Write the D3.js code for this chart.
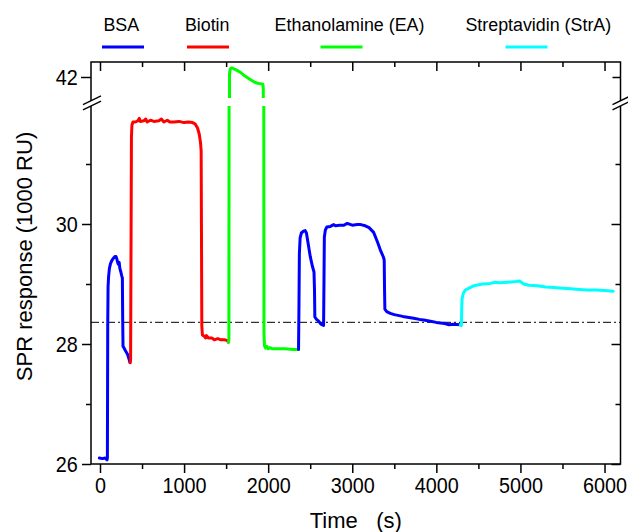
<!DOCTYPE html>
<html>
<head>
<meta charset="utf-8">
<script src="https://cdn.jsdelivr.net/npm/d3@7"></script>
<style>
  html, body { margin: 0; padding: 0; background: #fff; }
  svg { display: block; font-family: "Liberation Sans", Arial, Helvetica, sans-serif; }
</style>
</head>
<body>
<svg id="chart" width="628" height="532"></svg>
<script>
// ---- Sensorgram data: [time (s), SPR response (1000 RU)] ----
const bsaInjection1 = [
  [-8, 26.1], [30, 26.09], [60, 26.1], [84, 26.07], [88, 26.1], [92, 28.3], [96, 28.95],
  [102, 29.12], [112, 29.26], [125, 29.34], [140, 29.39], [160, 29.43], [178, 29.46],
  [190, 29.46], [200, 29.42], [210, 29.36], [218, 29.33], [228, 29.36], [236, 29.26],
  [248, 29.2], [258, 29.14], [266, 29.1], [270, 28.4], [274, 27.96], [284, 27.94],
  [298, 27.9], [315, 27.86], [330, 27.82], [345, 27.75], [357, 27.69]
];
const biotinInjection = [
  [357, 27.69], [364, 27.73], [374, 31.45], [380, 31.65], [392, 31.7], [420, 31.7],
  [450, 31.72], [468, 31.76], [480, 31.71], [520, 31.72], [545, 31.75], [560, 31.7],
  [600, 31.73], [640, 31.71], [700, 31.72], [730, 31.75], [760, 31.7], [800, 31.73],
  [830, 31.7], [880, 31.7], [940, 31.71], [1000, 31.69], [1050, 31.7], [1100, 31.69],
  [1130, 31.67], [1160, 31.6], [1180, 31.5], [1195, 31.36], [1203, 31.22], [1211, 28.3],
  [1218, 28.15], [1240, 28.13], [1255, 28.1], [1265, 28.14], [1290, 28.1], [1330, 28.1],
  [1360, 28.07], [1400, 28.09], [1440, 28.07], [1480, 28.07], [1510, 28.06], [1528, 28.03]
];
const eaInjection = [
  [1528, 28.03], [1533, 28.08], [1540, 42.05], [1548, 42.13], [1560, 42.15], [1575, 42.15],
  [1600, 42.13], [1630, 42.11], [1667, 42.08], [1720, 42.02], [1786, 41.96], [1830, 41.92],
  [1865, 41.9], [1900, 41.89], [1937, 41.88], [1942, 41.8], [1950, 28.2], [1956, 27.97],
  [1970, 27.93], [1985, 27.96], [2000, 27.92], [2020, 27.94], [2050, 27.92], [2100, 27.92],
  [2200, 27.92], [2300, 27.91], [2361, 27.91]
];
const bsaInjection2 = [
  [2361, 27.91], [2366, 28.6], [2371, 29.5], [2380, 29.77], [2395, 29.85], [2420, 29.88],
  [2440, 29.89], [2455, 29.85], [2470, 29.72], [2500, 29.46], [2525, 29.3], [2545, 29.2],
  [2551, 28.9], [2555, 28.45], [2575, 28.41], [2600, 28.38], [2627, 28.33], [2659, 28.31],
  [2664, 29.1], [2668, 29.78], [2680, 29.9], [2698, 29.95], [2740, 29.96], [2780, 29.99],
  [2800, 29.97], [2850, 29.98], [2900, 29.98], [2940, 30.01], [3000, 29.98], [3060, 29.99],
  [3100, 29.99], [3155, 29.97], [3200, 29.94], [3254, 29.86], [3300, 29.7], [3333, 29.57],
  [3370, 29.45], [3380, 29.4], [3384, 28.9], [3388, 28.58], [3410, 28.54], [3452, 28.51],
  [3500, 28.49], [3600, 28.46], [3730, 28.43], [3800, 28.41], [3850, 28.4], [3929, 28.38],
  [4000, 28.36], [4050, 28.35], [4100, 28.34], [4150, 28.32], [4200, 28.33], [4286, 28.32]
];
const streptavidinInjection = [
  [4286, 28.32], [4298, 28.31], [4302, 28.6], [4306, 28.75], [4320, 28.84], [4345, 28.9],
  [4400, 28.94], [4444, 28.97], [4550, 29.0], [4643, 29.01], [4700, 29.03], [4750, 29.02],
  [4850, 29.03], [4950, 29.04], [4990, 29.05], [5010, 29.03], [5040, 29.0], [5100, 28.98],
  [5200, 28.97], [5300, 28.95], [5400, 28.94], [5500, 28.93], [5600, 28.92], [5700, 28.91],
  [5800, 28.9], [5900, 28.9], [6000, 28.89], [6103, 28.88]
];
const baselineLevel = 28.36;

// Legend entries and axis ticks
const legendNames = ["BSA", "Biotin", "Ethanolamine (EA)", "Streptavidin (StrA)"];
const legendColors = ["#0000ff", "#ff0000", "#00ff00", "#00ffff"];
const timeMajorTicks = [0, 1000, 2000, 3000, 4000, 5000, 6000];
const timeMinorTicks = [500, 1500, 2500, 3500, 4500, 5500];
const responseMajorTicks = [26, 28, 30];
const responseMinorTicks = [27, 29, 31];
const responseUpperTicks = [42];

// ---- Layout ----
const frame = { left: 91, right: 620.5, top: 62, bottom: 464 };
const gapTop = 98, gapBottom = 106;   // axis break band
const svg = d3.select("#chart");

const x = d3.scaleLinear().domain([-107, 6190]).range([frame.left, frame.right]);
const yLow = d3.scaleLinear().domain([26, 32]).range([frame.bottom, 104]);
const yHigh = d3.scaleLinear().domain([41.55, 42.25]).range([104, frame.top]);

const defs = svg.append("defs");
defs.append("clipPath").attr("id", "clipLow").append("rect")
  .attr("x", frame.left).attr("y", gapBottom)
  .attr("width", frame.right - frame.left).attr("height", frame.bottom - gapBottom);
defs.append("clipPath").attr("id", "clipHigh").append("rect")
  .attr("x", frame.left).attr("y", frame.top)
  .attr("width", frame.right - frame.left).attr("height", gapTop - frame.top);

// Reference baseline (dash-dot)
svg.append("line")
  .attr("x1", frame.left).attr("x2", frame.right)
  .attr("y1", yLow(baselineLevel)).attr("y2", yLow(baselineLevel))
  .attr("stroke", "#333").attr("stroke-width", 1.1)
  .attr("stroke-dasharray", "8,3,2,3");

// Sensorgram traces, drawn in both panels of the broken axis
const traces = [
  { data: bsaInjection1, color: legendColors[0] },
  { data: biotinInjection, color: legendColors[1] },
  { data: eaInjection, color: legendColors[2] },
  { data: bsaInjection2, color: legendColors[0] },
  { data: streptavidinInjection, color: legendColors[3] }
];
const panels = [
  { scale: yLow, clip: "url(#clipLow)" },
  { scale: yHigh, clip: "url(#clipHigh)" }
];
panels.forEach(p => {
  const line = d3.line().x(d => x(d[0])).y(d => p.scale(d[1]));
  const g = svg.append("g").attr("clip-path", p.clip);
  traces.forEach(t => {
    g.append("path").attr("d", line(t.data))
      .attr("fill", "none").attr("stroke", t.color)
      .attr("stroke-width", 3).attr("stroke-linejoin", "round").attr("stroke-linecap", "round");
  });
});

// ---- Axes ----
function styleAxis(g) {
  g.select(".domain").remove();
  g.selectAll(".tick line").attr("stroke", "#000").attr("stroke-width", 1.5);
  g.attr("font-family", null).attr("font-size", 22);
  g.selectAll("text").attr("fill", "#000");
}
const noLabel = () => "";

// bottom (outward)
svg.append("g").attr("transform", `translate(0,${frame.bottom})`)
  .call(d3.axisBottom(x).tickValues(timeMajorTicks).tickSize(9).tickPadding(4.4).tickFormat(d3.format("d")))
  .call(styleAxis)
  .call(g => g.selectAll("text").attr("transform", "scale(0.9,1)"));
svg.append("g").attr("transform", `translate(0,${frame.bottom})`)
  .call(d3.axisBottom(x).tickValues(timeMinorTicks).tickSize(5).tickFormat(noLabel))
  .call(styleAxis);
// top (inward)
svg.append("g").attr("transform", `translate(0,${frame.top})`)
  .call(d3.axisBottom(x).tickValues(timeMajorTicks).tickSize(9).tickFormat(noLabel))
  .call(styleAxis);
svg.append("g").attr("transform", `translate(0,${frame.top})`)
  .call(d3.axisBottom(x).tickValues(timeMinorTicks).tickSize(5).tickFormat(noLabel))
  .call(styleAxis);

// left (outward, labelled)
function leftLabels(g) {
  g.selectAll("text").attr("x", -14.8).attr("transform", "scale(0.9,1)");
}
svg.append("g").attr("transform", `translate(${frame.left},0)`)
  .call(d3.axisLeft(yLow).tickValues(responseMajorTicks).tickSize(9).tickFormat(d3.format("d")))
  .call(styleAxis).call(leftLabels);
svg.append("g").attr("transform", `translate(${frame.left},0)`)
  .call(d3.axisLeft(yLow).tickValues(responseMinorTicks).tickSize(5).tickFormat(noLabel))
  .call(styleAxis);
svg.append("g").attr("transform", `translate(${frame.left},0)`)
  .call(d3.axisLeft(yHigh).tickValues(responseUpperTicks).tickSize(10).tickFormat(d3.format("d")))
  .call(styleAxis).call(leftLabels);
// right (inward)
svg.append("g").attr("transform", `translate(${frame.right},0)`)
  .call(d3.axisLeft(yLow).tickValues(responseMajorTicks).tickSize(9).tickFormat(noLabel))
  .call(styleAxis);
svg.append("g").attr("transform", `translate(${frame.right},0)`)
  .call(d3.axisLeft(yLow).tickValues(responseMinorTicks).tickSize(5).tickFormat(noLabel))
  .call(styleAxis);
svg.append("g").attr("transform", `translate(${frame.right},0)`)
  .call(d3.axisLeft(yHigh).tickValues(responseUpperTicks).tickSize(8).tickFormat(noLabel))
  .call(styleAxis);

// frame
svg.append("rect")
  .attr("x", frame.left).attr("y", frame.top)
  .attr("width", frame.right - frame.left).attr("height", frame.bottom - frame.top)
  .attr("fill", "none").attr("stroke", "#000").attr("stroke-width", 1.5);

// axis-break marks on both vertical axes
[frame.left, frame.right].forEach(ax => {
  const g = svg.append("g").attr("transform", `translate(${ax},0)`);
  g.append("polygon")
    .attr("points", "-8,104.6 10,95.9 10,101.1 -8,109.8")
    .attr("fill", "#fff");
  [[104.6, 95.9], [109.8, 101.1]].forEach(([ya, yb]) => {
    g.append("line").attr("x1", -8).attr("y1", ya).attr("x2", 10).attr("y2", yb)
      .attr("stroke", "#000").attr("stroke-width", 1.4);
  });
});

// ---- Legend ----
const legendTextX = [121.3, 207.2, 349.5, 538.3];
const legendLineX = [123, 208, 341.5, 526.5];
legendNames.forEach((name, i) => {
  svg.append("text")
    .attr("transform", `translate(${legendTextX[i]},31) scale(0.94,1)`)
    .attr("text-anchor", "middle").attr("font-size", 19).attr("fill", "#000")
    .text(name);
  svg.append("line")
    .attr("x1", legendLineX[i] - 21).attr("x2", legendLineX[i] + 21)
    .attr("y1", 47).attr("y2", 47)
    .attr("stroke", legendColors[i]).attr("stroke-width", 3);
});

// ---- Axis titles ----
svg.append("text")
  .attr("x", (frame.left + frame.right) / 2).attr("y", 528)
  .attr("text-anchor", "middle").attr("font-size", 22).attr("fill", "#000")
  .style("white-space", "pre")
  .text("Time   (s)");
svg.append("text")
  .attr("transform", "translate(31.5,256.5) rotate(-90)")
  .attr("text-anchor", "middle").attr("font-size", 22).attr("fill", "#000")
  .text("SPR response (1000 RU)");
</script>
</body>
</html>
